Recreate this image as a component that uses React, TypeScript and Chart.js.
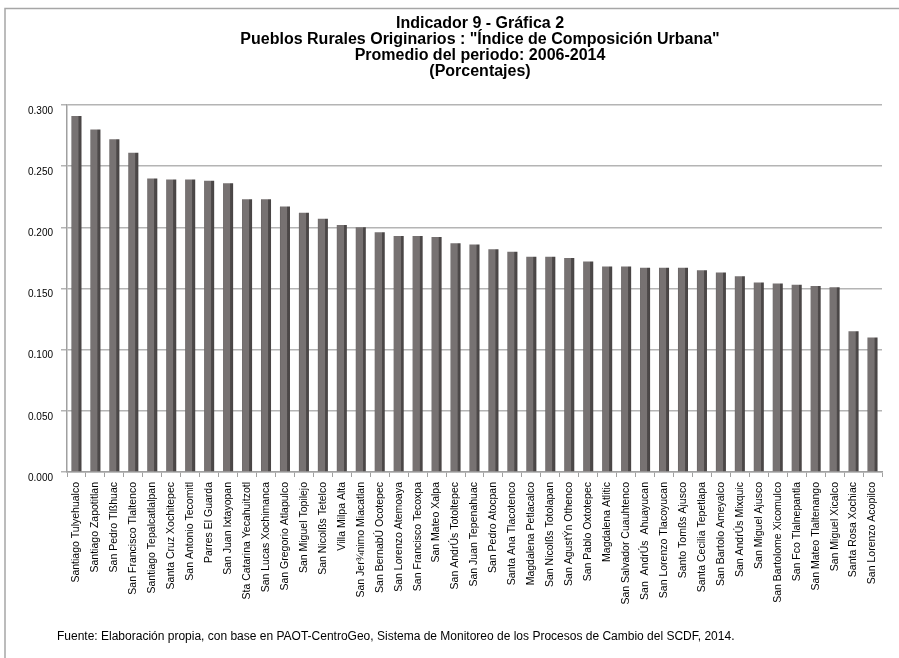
import React, { useEffect, useRef } from "react";
import { Chart, registerables } from "chart.js";

Chart.register(...registerables);

const titleLines = [
  "Indicador 9 - Gráfica 2",
  'Pueblos Rurales Originarios : "Índice de Composición Urbana"',
  "Promedio del periodo: 2006-2014",
  "(Porcentajes)",
];

const footerText =
  "Fuente: Elaboración propia, con base en PAOT-CentroGeo, Sistema de Monitoreo de los Procesos de Cambio del SCDF, 2014.";

const categories = [
  "Santiago Tulyehualco",
  "Santiago Zapotitlan",
  "San Pedro Tlßhuac",
  "San Francisco Tlaltenco",
  "Santiago Tepalcatlalpan",
  "Santa Cruz Xochitepec",
  "San Antonio Tecomitl",
  "Parres El Guarda",
  "San Juan Ixtayopan",
  "Sta Catarina Yecahuitzotl",
  "San Lucas Xochimanca",
  "San Gregorio Atlapulco",
  "San Miguel Topilejo",
  "San Nicolßs Tetelco",
  "Villa Milpa Alta",
  "San Jer¾nimo Miacatlan",
  "San BernabÚ Ocotepec",
  "San Lorenzo Atemoaya",
  "San Francisco Tecoxpa",
  "San Mateo Xalpa",
  "San AndrÚs Totoltepec",
  "San Juan Tepenahuac",
  "San Pedro Atocpan",
  "Santa Ana Tlacotenco",
  "Magdalena Petlacalco",
  "San Nicolßs Totolapan",
  "San AgustÝn Othenco",
  "San Pablo Oxtotepec",
  "Magdalena Atlitic",
  "San Salvador Cuauhtenco",
  "San  AndrÚs  Ahuayucan",
  "San Lorenzo Tlacoyucan",
  "Santo Tomßs Ajusco",
  "Santa Cecilia Tepetlapa",
  "San Bartolo Ameyalco",
  "San AndrÚs Mixquic",
  "San Miguel Ajusco",
  "San Bartolome Xicomulco",
  "San Fco Tlalnepantla",
  "San Mateo Tlaltenango",
  "San Miguel Xicalco",
  "Santa Rosa Xochiac",
  "San Lorenzo Acopilco",
];

const values = [
  0.291, 0.28, 0.272, 0.261, 0.24, 0.239, 0.239, 0.238, 0.236, 0.223, 0.223,
  0.217, 0.212, 0.207, 0.202, 0.2, 0.196, 0.193, 0.193, 0.192, 0.187, 0.186,
  0.182, 0.18, 0.176, 0.176, 0.175, 0.172, 0.168, 0.168, 0.167, 0.167, 0.167,
  0.165, 0.163, 0.16, 0.155, 0.154, 0.153, 0.152, 0.151, 0.115, 0.11,
];

const yMin = 0;
const yMax = 0.3;
const yStep = 0.05;

const FONT = "'Liberation Sans', Arial, sans-serif";

export default function App() {
  const ref = useRef<HTMLCanvasElement>(null);

  useEffect(() => {
    const canvas = ref.current;
    if (!canvas) return;

    const decor = {
      id: "decor",
      beforeDraw(chart: any) {
        const ctx = chart.ctx;
        ctx.save();
        ctx.fillStyle = "#ffffff";
        ctx.fillRect(0, 0, chart.width, chart.height);
        ctx.strokeStyle = "#a6a6a6";
        ctx.lineWidth = 1.5;
        ctx.beginPath();
        ctx.moveTo(5, 660);
        ctx.lineTo(5, 8.5);
        ctx.lineTo(899, 8.5);
        ctx.stroke();
        ctx.restore();
      },
      afterDraw(chart: any) {
        const ctx = chart.ctx;
        ctx.save();
        ctx.fillStyle = "#000";
        ctx.textAlign = "center";
        ctx.textBaseline = "middle";
        ctx.font = `bold 16px ${FONT}`;
        titleLines.forEach((t, i) => {
          ctx.fillText(t, 480, 24 + i * 16);
        });
        ctx.textAlign = "left";
        ctx.font = `12px ${FONT}`;
        ctx.fillText(footerText, 57, 637);
        ctx.restore();
      },
    };

    const chart = new Chart(canvas, {
      type: "bar",
      data: {
        labels: categories,
        datasets: [
          {
            data: values,
            backgroundColor: (c: any) => {
              const ch = c.chart;
              if (!ch.chartArea || !ch.scales.x) return "#777272";
              const x = ch.scales.x.getPixelForValue(c.dataIndex);
              const w = 10;
              const g = ch.ctx.createLinearGradient(x - w / 2, 0, x + w / 2, 0);
              g.addColorStop(0, "#5e5a5a");
              g.addColorStop(0.08, "#777272");
              g.addColorStop(0.68, "#777272");
              g.addColorStop(0.72, "#4f4b4b");
              g.addColorStop(1, "#474343");
              return g;
            },
            borderColor: "#4a4646",
            borderWidth: 0,
            barPercentage: 0.53,
            categoryPercentage: 1,
          },
        ],
      },
      options: {
        animation: false,
        responsive: false,
        maintainAspectRatio: false,
        layout: { padding: { top: 105, right: 17, left: 0, bottom: 0 } },
        plugins: {
          legend: { display: false },
          tooltip: { enabled: false },
          title: { display: false },
        },
        scales: {
          x: {
            grid: {
              drawOnChartArea: false,
              drawTicks: true,
              tickLength: 5,
              color: "#a0a0a0",
              offset: true,
            },
            border: { display: true, color: "#a0a0a0", width: 1.5 },
            ticks: {
              autoSkip: false,
              maxRotation: 90,
              minRotation: 90,
              color: "#000",
              padding: 5,
              font: { family: FONT, size: 10.5 },
            },
            afterFit: (s: any) => {
              s.height = 186;
            },
          },
          y: {
            min: yMin,
            max: yMax,
            ticks: {
              stepSize: yStep,
              color: "#000",
              padding: 8,
              labelOffset: 6,
              font: { family: FONT, size: 10 },
              callback: (v: any) => Number(v).toFixed(3),
            },
            grid: {
              color: "#b4b4b4",
              lineWidth: 1.5,
              tickLength: 6,
              drawTicks: true,
            },
            border: { display: true, color: "#a0a0a0", width: 1.5 },
            afterFit: (s: any) => {
              s.width = 67;
            },
          },
        },
      },
      plugins: [decor],
    } as any);

    return () => chart.destroy();
  }, []);

  return (
    <div
      style={{
        position: "fixed",
        left: 0,
        top: 0,
        width: 899,
        height: 658,
        background: "#fff",
      }}
    >
      <canvas
        ref={ref}
        width={899}
        height={658}
        style={{ display: "block", width: 899, height: 658 }}
      />
    </div>
  );
}
